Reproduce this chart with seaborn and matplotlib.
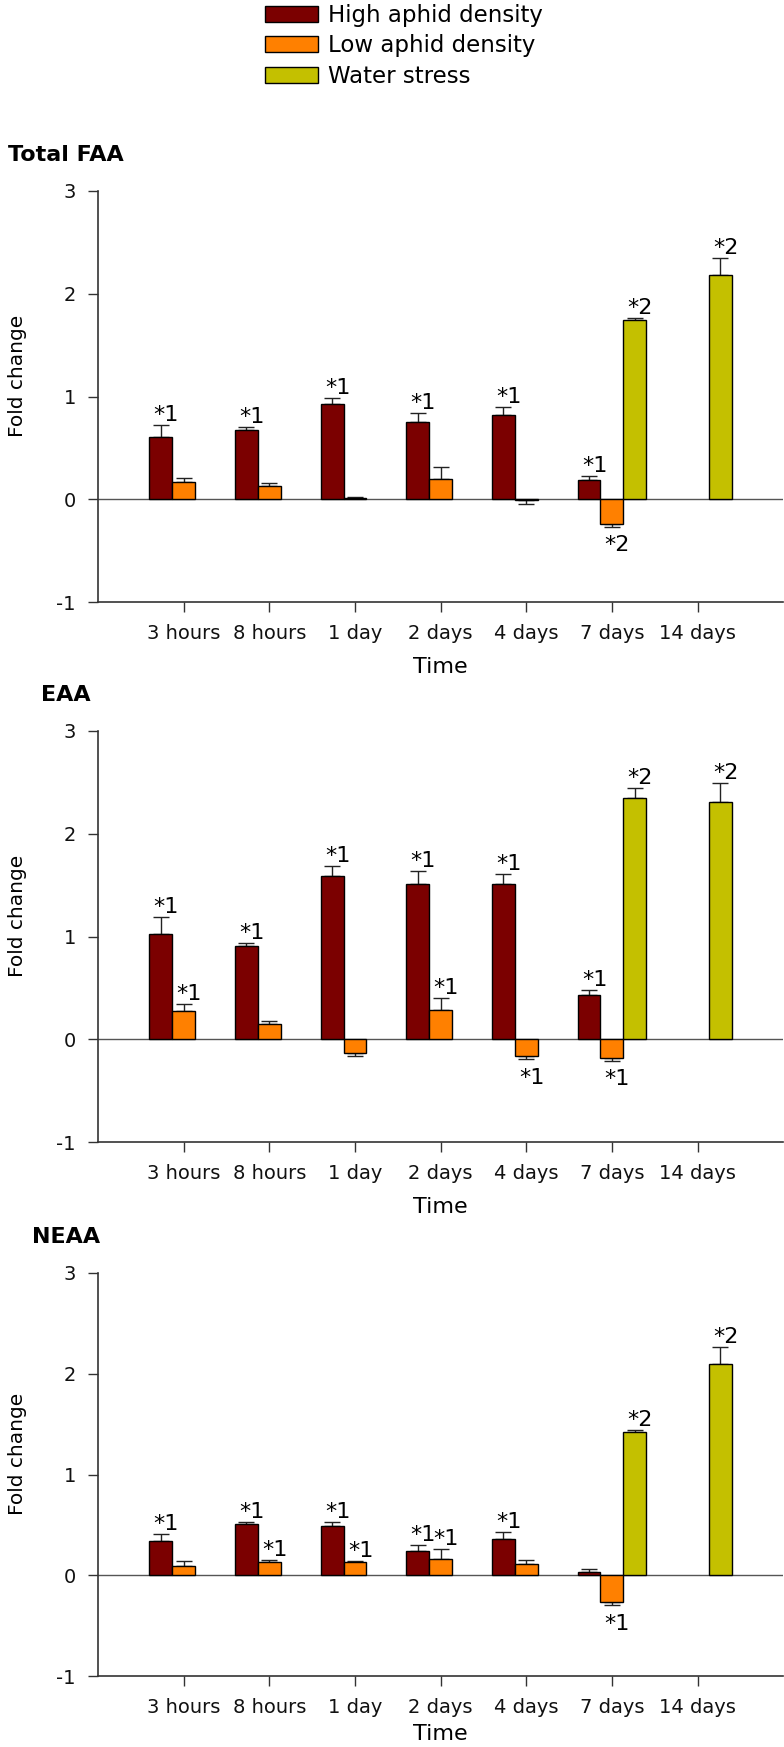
import numpy as np
import pandas as pd
import matplotlib.pyplot as plt
import seaborn as sns
from matplotlib.patches import Patch

categories = ['3 hours', '8 hours', '1 day', '2 days', '4 days', '7 days', '14 days']
groups = ['High aphid density', 'Low aphid density', 'Water stress']
colors = ['#7b0000', '#ff8000', '#c4c000']
nan = np.nan

# Total FAA
faa_high = [0.61, 0.67, 0.93, 0.75, 0.82, 0.185, nan]
faa_high_err = [0.11, 0.03, 0.06, 0.09, 0.08, 0.045, nan]
faa_low = [0.17, 0.13, 0.01, 0.20, -0.01, -0.24, nan]
faa_low_err = [0.04, 0.03, 0.015, 0.11, 0.035, 0.03, nan]
faa_water = [nan, nan, nan, nan, nan, 1.74, 2.18]
faa_water_err = [nan, nan, nan, nan, nan, 0.02, 0.17]
faa_high_sig = ['*1', '*1', '*1', '*1', '*1', '*1', '']
faa_low_sig = ['', '', '', '', '', '*2', '']
faa_water_sig = ['', '', '', '', '', '*2', '*2']

# EAA
eaa_high = [1.02, 0.91, 1.59, 1.51, 1.51, 0.43, nan]
eaa_high_err = [0.17, 0.03, 0.10, 0.13, 0.10, 0.05, nan]
eaa_low = [0.275, 0.15, -0.13, 0.28, -0.16, -0.18, nan]
eaa_low_err = [0.065, 0.03, 0.03, 0.12, 0.035, 0.03, nan]
eaa_water = [nan, nan, nan, nan, nan, 2.35, 2.31]
eaa_water_err = [nan, nan, nan, nan, nan, 0.10, 0.18]
eaa_high_sig = ['*1', '*1', '*1', '*1', '*1', '*1', '']
eaa_low_sig = ['*1', '', '', '*1', '*1', '*1', '']
eaa_water_sig = ['', '', '', '', '', '*2', '*2']

# NEAA
neaa_high = [0.34, 0.51, 0.49, 0.24, 0.36, 0.03, nan]
neaa_high_err = [0.07, 0.02, 0.04, 0.06, 0.07, 0.035, nan]
neaa_low = [0.095, 0.13, 0.13, 0.165, 0.11, -0.27, nan]
neaa_low_err = [0.045, 0.025, 0.015, 0.095, 0.045, 0.03, nan]
neaa_water = [nan, nan, nan, nan, nan, 1.42, 2.10]
neaa_water_err = [nan, nan, nan, nan, nan, 0.02, 0.17]
neaa_high_sig = ['*1', '*1', '*1', '*1', '*1', '', '']
neaa_low_sig = ['', '*1', '*1', '*1', '', '*1', '']
neaa_water_sig = ['', '', '', '', '', '*2', '*2']

panels = [
    ('Total FAA', [faa_high, faa_low, faa_water], [faa_high_err, faa_low_err, faa_water_err],
     [faa_high_sig, faa_low_sig, faa_water_sig]),
    ('EAA', [eaa_high, eaa_low, eaa_water], [eaa_high_err, eaa_low_err, eaa_water_err],
     [eaa_high_sig, eaa_low_sig, eaa_water_sig]),
    ('NEAA', [neaa_high, neaa_low, neaa_water], [neaa_high_err, neaa_low_err, neaa_water_err],
     [neaa_high_sig, neaa_low_sig, neaa_water_sig]),
]

sns.set_style('ticks')
plt.rcParams['font.family'] = ['DejaVu Sans']
plt.rcParams['axes.unicode_minus'] = False
plt.rcParams['text.color'] = 'black'
plt.rcParams['axes.labelcolor'] = 'black'
plt.rcParams['xtick.labelcolor'] = '#111111'
plt.rcParams['ytick.labelcolor'] = '#111111'

W, H = 784, 1747
fig = plt.figure(figsize=(W / 100, H / 100), dpi=100)

# pixel boxes (top, bottom, title x, xlabel pad) for each panel
boxes = [(191, 602, 8, 10), (731, 1142, 41, 10), (1273, 1676, 32, 5)]
left_px = 98

for (title, vals, errs, sigs), (top, bot, tx, lpad) in zip(panels, boxes):
    ax = fig.add_axes([left_px / W, 1 - bot / H, (W - left_px) / W - 0.001, (bot - top) / H])
    rows = []
    for g, v, e, s in zip(groups, vals, errs, sigs):
        for c, vi, ei, si in zip(categories, v, e, s):
            if not np.isnan(vi):
                rows.append({'Time': c, 'Group': g, 'Value': vi, 'Err': ei, 'Sig': si})
    df = pd.DataFrame(rows)
    sns.barplot(data=df, x='Time', y='Value', hue='Group', order=categories,
                hue_order=groups, palette=colors, saturation=1, width=0.8, errorbar=None,
                edgecolor='black', linewidth=1, legend=False, ax=ax, zorder=3)
    ax.axhline(0, color='#555555', lw=1, zorder=2)

    for g, cont in zip(groups, ax.containers):
        sub = df[df['Group'] == g]
        for patch, (_, r) in zip(cont.patches, sub.iterrows()):
            x = patch.get_x() + patch.get_width() / 2
            v = r['Value']
            if v >= 0:
                ax.errorbar(x, v, yerr=[[0], [r['Err']]], fmt='none', ecolor='#222222',
                            elinewidth=1, capsize=5.5, capthick=1, zorder=2)
                end = v + r['Err']
                if r['Sig']:
                    ax.annotate(r['Sig'], xy=(x, end), xytext=(4, 0), textcoords='offset points',
                                ha='center', va='bottom', fontsize=16)
            else:
                ax.errorbar(x, v, yerr=[[r['Err']], [0]], fmt='none', ecolor='#222222',
                            elinewidth=1, capsize=5.5, capthick=1, zorder=2)
                end = v - r['Err']
                if r['Sig']:
                    ax.annotate(r['Sig'], xy=(x, end), xytext=(4, -6), textcoords='offset points',
                                ha='center', va='top', fontsize=16)

    ax.set_xlim(-1, 7)
    ax.set_ylim(-1, 3)
    ax.set_yticks([-1, 0, 1, 2, 3])
    ax.set_yticklabels(['-1', '0', '1', '2', '3'])
    ax.tick_params(axis='both', direction='out', length=7, width=1, labelsize=14, pad=9,
                   color='#333333')
    sns.despine(ax=ax)
    for sp in ['left', 'bottom']:
        ax.spines[sp].set_color('#333333')
        ax.spines[sp].set_linewidth(1.2)
    ax.set_xlabel('Time', fontsize=16, labelpad=lpad)
    ax.set_ylabel('Fold change', fontsize=14.5)
    ax.yaxis.set_label_coords(-0.104, 0.55)
    fig.text(tx / W, 1 - (top - 36) / H, title, fontsize=16, fontweight='bold',
             ha='left', va='center')

handles = [Patch(facecolor=c, edgecolor='black', linewidth=1) for c in colors]
fig.legend(handles, groups, loc='upper left', bbox_to_anchor=(265 / W, 1 - 4 / H),
           frameon=False, fontsize=16.5, handlelength=2.3, handleheight=0.7,
           handletextpad=0.45, labelspacing=0.32, borderpad=0, borderaxespad=0)

fig.savefig('out.png', dpi=100)
